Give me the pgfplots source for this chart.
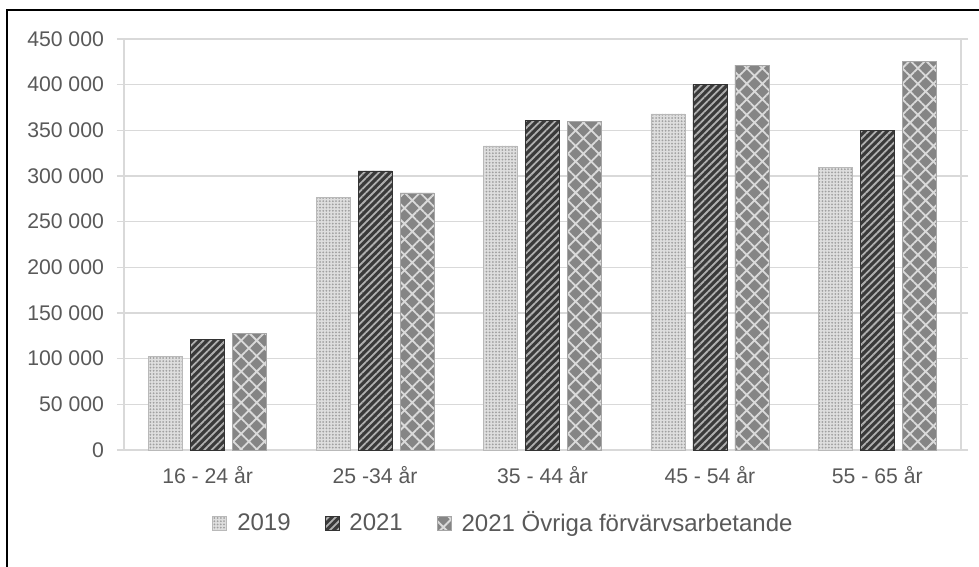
\documentclass[border=0pt]{standalone}
\usepackage{fontspec}
\setmainfont{Liberation Sans}
\usepackage{pgfplots}
\pgfplotsset{compat=1.18}
\usetikzlibrary{patterns.meta}
\definecolor{txt}{HTML}{595959}
\definecolor{gridc}{HTML}{D9D9D9}
\definecolor{dotbg}{HTML}{DEDEDE}
\definecolor{dotfg}{HTML}{A0A0A0}
\definecolor{stripebg}{HTML}{3A3A3A}
\definecolor{stripefg}{HTML}{B0B0B0}
\definecolor{hatchbg}{HTML}{858585}
\definecolor{hatchfg}{HTML}{DADADA}
\pgfplotsset{
  sq legend/.style={legend image code/.code={\draw[##1] (0pt,-3.5pt) rectangle (7pt,3.5pt);}}
}
\begin{document}
\begin{tikzpicture}
\begin{axis}[
  scale only axis, width=418.5pt, height=205.5pt,
  ybar=4pt, bar width=17pt,
  xmin=-0.5, xmax=4.5, ymin=0, ymax=450000,
  scaled y ticks=false,
  xtick=data,
  xticklabels={16 - 24 år, 25 -34 år, 35 - 44 år, 45 - 54 år, 55 - 65 år},
  ytick={0,50000,100000,150000,200000,250000,300000,350000,400000,450000},
  yticklabels={0,50 000,100 000,150 000,200 000,250 000,300 000,350 000,400 000,450 000},
  ymajorgrids, grid style={gridc, line width=0.8pt},
  axis line style={gridc, line width=0.8pt},
  xtick style={draw=none},
  ytick style={gridc, line width=0.8pt},
  tick align=outside, major tick length=3.5pt,
  ticklabel style={font=\fontsize{10.6}{12}\selectfont, text=txt},
  yticklabel style={xshift=-3pt},
  xticklabel style={yshift=-1pt},
  clip=false,
  legend columns=3,
  legend style={at={(rel axis cs:0.4546,-0.178)}, anchor=center, draw=none,
    font=\fontsize{12}{14}\selectfont, text=txt,
    /tikz/every odd column/.append style={column sep=3pt},
    /tikz/every even column/.append style={column sep=15pt}},
]
\addplot[sq legend, draw=gray!55, fill=dotbg,
  postaction={pattern={Dots[distance=1.6pt, radius=0.5pt]}, pattern color=dotfg}]
  coordinates {(0,102900) (1,277000) (2,332900) (3,367900) (4,309500)};
\addplot[sq legend, draw=black!80, fill=stripebg,
  postaction={pattern={Lines[angle=45, distance=2.6pt, line width=0.9pt]}, pattern color=stripefg}]
  coordinates {(0,121500) (1,305500) (2,361300) (3,400000) (4,349600)};
\addplot[sq legend, draw=gray!70, fill=hatchbg,
  postaction={pattern={Hatch[angle=45, distance=5.5pt, line width=0.9pt]}, pattern color=hatchfg}]
  coordinates {(0,128100) (1,281400) (2,360200) (3,421500) (4,425000)};
\legend{2019, 2021, 2021 Övriga förvärvsarbetande}
\draw[black, line width=1pt] (rel axis cs:-0.1398,-0.30) -- (rel axis cs:-0.1398,1.0706) -- (rel axis cs:1.03,1.0706);
\coordinate (bl) at (rel axis cs:-0.1481,-0.2822);
\coordinate (tr) at (rel axis cs:1.0215,1.0949);
\end{axis}
\pgfresetboundingbox
\path[use as bounding box] (bl) rectangle (tr);
\end{tikzpicture}
\end{document}
